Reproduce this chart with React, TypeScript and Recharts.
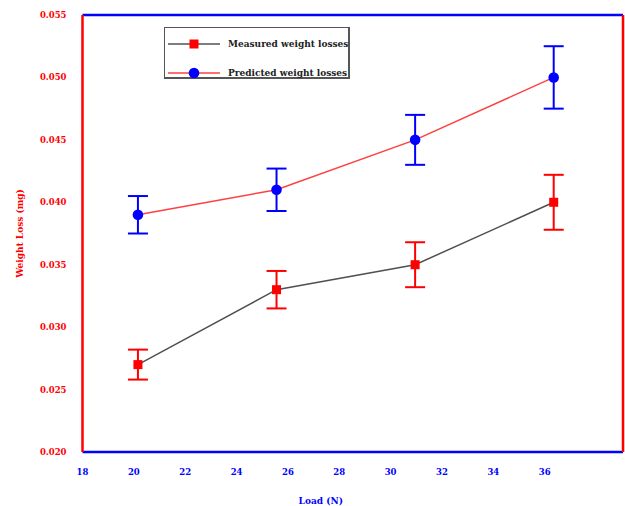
import React from 'react';
import { LineChart, Line, XAxis, YAxis, ErrorBar, ReferenceLine } from 'recharts';

const loads = [20, 25, 30, 35];
const measured = [0.027, 0.033, 0.035, 0.040];
const measuredErr = [0.0012, 0.0015, 0.0018, 0.0022];
const predicted = [0.039, 0.041, 0.045, 0.050];
const predictedErr = [0.0015, 0.0017, 0.002, 0.0025];
const yTicks = [0.02, 0.025, 0.03, 0.035, 0.04, 0.045, 0.05, 0.055];
const xTickLabels = [18, 20, 22, 24, 26, 28, 30, 32, 34, 36];

const data = loads.map((load, i) => ({
  load,
  measured: measured[i],
  mErr: measuredErr[i],
  predicted: predicted[i],
  pErr: predictedErr[i],
}));

const FONT = '"DejaVu Serif", serif';

const SquareDot = (props: any) => {
  const { cx, cy } = props;
  if (cx == null || cy == null) return null;
  return <rect x={cx - 4.5} y={cy - 4.5} width={9} height={9} fill="#ff0000" />;
};
const CircleDot = (props: any) => {
  const { cx, cy } = props;
  if (cx == null || cy == null) return null;
  return <circle cx={cx} cy={cy} r={5.3} fill="#0000ff" />;
};

const legendItems = [
  { label: 'Measured weight losses', line: '#505050', marker: 'square' },
  { label: 'Predicted weight losses', line: '#ff4040', marker: 'circle' },
];

const LegendBox = () => (
  <div
    style={{
      position: 'absolute',
      left: 164,
      top: 27,
      width: 186,
      height: 52,
      boxSizing: 'border-box',
      border: '1px solid #555',
      borderRightWidth: 2,
      borderBottomWidth: 2,
      background: '#fff',
    }}
  >
    {legendItems.map((it, i) => (
      <div
        key={it.label}
        style={{
          position: 'absolute',
          left: 3,
          top: i === 0 ? 9 : 38,
          height: 14,
          display: 'flex',
          alignItems: 'center',
        }}
      >
        <svg width={54} height={14} style={{ display: 'block' }}>
          <line x1={0} y1={7} x2={52} y2={7} stroke={it.line} strokeWidth={1.5} />
          {it.marker === 'square' ? (
            <rect x={21.5} y={2.5} width={9} height={9} fill="#ff0000" />
          ) : (
            <circle cx={26} cy={7} r={5.3} fill="#0000ff" />
          )}
        </svg>
        <span
          style={{
            marginLeft: 6,
            fontFamily: FONT,
            fontWeight: 'bold',
            fontSize: 9,
            color: '#222',
            whiteSpace: 'nowrap',
          }}
        >
          {it.label}
        </span>
      </div>
    ))}
  </div>
);

export default function App() {
  return (
    <div style={{ position: 'absolute', left: 0, top: 0, width: 625, height: 506, background: '#fff' }}>
      <LineChart
        width={625}
        height={506}
        data={data}
        margin={{ top: 15, right: 2, bottom: 0, left: 0 }}
      >
        <XAxis
          xAxisId="data"
          dataKey="load"
          type="number"
          domain={[18, 37.5]}
          allowDataOverflow
          height={0}
          hide
        />
        <XAxis
          xAxisId="labels"
          dataKey="load"
          type="number"
          domain={[18, 39.05]}
          allowDataOverflow
          ticks={xTickLabels}
          interval={0}
          axisLine={false}
          tickLine={false}
          tickSize={0}
          tickMargin={17}
          height={54}
          tick={{ fill: '#0000ff', fontFamily: FONT, fontWeight: 'bold', fontSize: 8.5 }}
          label={{
            value: 'Load (N)',
            position: 'insideBottom',
            offset: 2,
            dx: -32,
            fill: '#0000ff',
            fontFamily: FONT,
            fontWeight: 'bold',
            fontSize: 9,
          }}
        />
        <YAxis
          type="number"
          domain={[0.02, 0.055]}
          ticks={yTicks}
          interval={0}
          width={82.5}
          axisLine={false}
          tickLine={false}
          tickSize={0}
          tickMargin={16}
          tickFormatter={(v: number) => v.toFixed(3)}
          tick={{ fill: '#ff0000', fontFamily: FONT, fontWeight: 'bold', fontSize: 8.5 }}
          label={{
            value: 'Weight Loss (mg)',
            angle: -90,
            position: 'insideLeft',
            offset: 20,
            style: { textAnchor: 'middle' },
            fill: '#ff0000',
            fontFamily: FONT,
            fontWeight: 'bold',
            fontSize: 9,
          }}
        />
        <ReferenceLine xAxisId="data" y={0.055} stroke="#0000ff" strokeWidth={2.5} />
        <ReferenceLine xAxisId="data" y={0.02} stroke="#0000ff" strokeWidth={2.5} />
        <ReferenceLine xAxisId="data" x={18} stroke="#ff0000" strokeWidth={2.5} />
        <ReferenceLine xAxisId="data" x={37.5} stroke="#ff0000" strokeWidth={2.5} />
        <Line
          xAxisId="labels"
          dataKey="measured"
          stroke="none"
          dot={false}
          activeDot={false}
          legendType="none"
          isAnimationActive={false}
        />
        <Line
          xAxisId="data"
          dataKey="measured"
          stroke="#505050"
          strokeWidth={1.5}
          dot={<SquareDot />}
          activeDot={false}
          isAnimationActive={false}
        >
          <ErrorBar dataKey="mErr" direction="y" width={10} stroke="#ff0000" strokeWidth={2} isAnimationActive={false} />
        </Line>
        <Line
          xAxisId="data"
          dataKey="predicted"
          stroke="#ff4040"
          strokeWidth={1.5}
          dot={<CircleDot />}
          activeDot={false}
          isAnimationActive={false}
        >
          <ErrorBar dataKey="pErr" direction="y" width={10} stroke="#0000ff" strokeWidth={2} isAnimationActive={false} />
        </Line>
      </LineChart>
      <LegendBox />
    </div>
  );
}
